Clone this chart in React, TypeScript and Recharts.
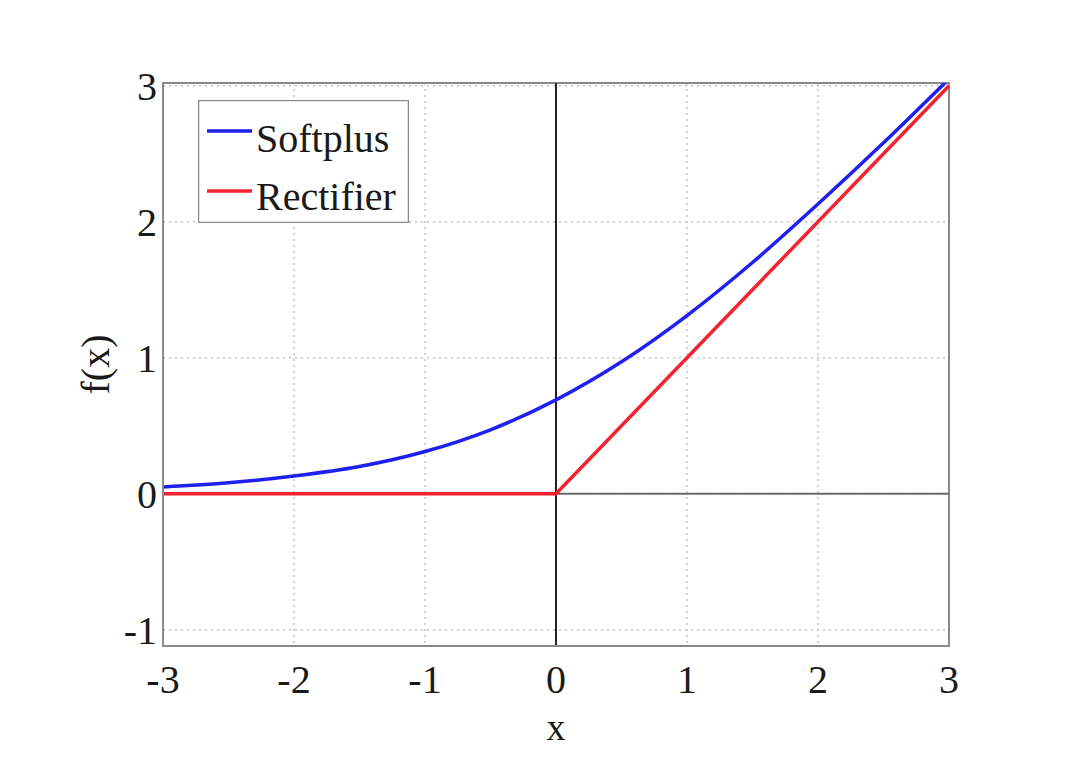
import React from "react"
import {
  LineChart,
  Line,
  XAxis,
  YAxis,
  CartesianGrid,
  ReferenceLine,
  ReferenceArea,
  Legend,
} from "recharts"

const xValues = [-3, -2.5, -2, -1.5, -1, -0.5, 0, 0.5, 1, 1.5, 2, 2.5, 3]
const softplus = [0.05, 0.08, 0.13, 0.2, 0.31, 0.47, 0.69, 0.97, 1.31, 1.7, 2.13, 2.58, 3.05]
const rectifier = [0, 0, 0, 0, 0, 0, 0, 0.5, 1, 1.5, 2, 2.5, 3]
const xTicks = [-3, -2, -1, 0, 1, 2, 3]
const yTicks = [-1, 0, 1, 2, 3]

const data = xValues.map((x, i) => ({ x, softplus: softplus[i], rectifier: rectifier[i] }))

const FONT = "'Liberation Serif', 'Times New Roman', serif"
const BLUE = "#1f1ff0"
const RED = "#f5222f"

const LegendBox = () => (
  <svg width={211} height={123} style={{ display: "block" }}>
    <rect x={0.5} y={0.5} width={210} height={122} fill="#fff" stroke="#8a8a8a" strokeWidth={1.5} />
    <line x1={9} x2={54} y1={31} y2={31} stroke={BLUE} strokeWidth={3.5} />
    <text x={58} y={52} fontFamily={FONT} fontSize={40} fill="#1a1a1a">Softplus</text>
    <line x1={9} x2={54} y1={91} y2={91} stroke={RED} strokeWidth={3.5} />
    <text x={58} y={110} fontFamily={FONT} fontSize={40} fill="#1a1a1a">Rectifier</text>
  </svg>
)

export default function App() {
  const tickStyle = { fontFamily: FONT, fontSize: 40, fill: "#1a1a1a" }
  return (
    <div style={{ position: "absolute", left: 0, top: 0, background: "#fff" }}>
      <LineChart width={1078} height={773} data={data} margin={{ top: 83, right: 129, left: 0, bottom: 0 }}>
        <CartesianGrid stroke="#c4c4c4" strokeDasharray="2 4" strokeWidth={1.5} />
        <XAxis
          type="number"
          dataKey="x"
          domain={[-3, 3]}
          ticks={xTicks}
          tickFormatter={(v: number) => String(v)}
          tick={tickStyle}
          tickLine={false}
          tickSize={0}
          tickMargin={19}
          axisLine={{ stroke: "#8a8a8a", strokeWidth: 2 }}
          height={127}
          label={{ value: "x", position: "insideBottom", offset: 33, style: { fontFamily: FONT, fontSize: 38, fill: "#1a1a1a" } }}
        />
        <YAxis
          type="number"
          domain={[-1.12, 3.02]}
          allowDataOverflow
          ticks={yTicks}
          tick={tickStyle}
          tickLine={false}
          tickSize={0}
          tickMargin={6}
          axisLine={{ stroke: "#8a8a8a", strokeWidth: 2 }}
          width={163}
          label={{
            content: (props: any) => {
              const vb = props.viewBox
              const cx = 95
              const cy = vb.y + vb.height / 2
              return (
                <text
                  x={cx}
                  y={cy}
                  transform={`rotate(-90, ${cx}, ${cy})`}
                  textAnchor="middle"
                  dominantBaseline="central"
                  fontFamily={FONT}
                  fontSize={40}
                  fill="#1a1a1a"
                >
                  f(x)
                </text>
              )
            },
          }}
        />
        <ReferenceArea x1={-3} x2={3} y1={-1.12} y2={3.02} fill="none" stroke="#8a8a8a" strokeWidth={2} ifOverflow="extendDomain" />
        <ReferenceLine y={0} stroke="#6a6a6a" strokeWidth={2} />
        <ReferenceLine x={0} stroke="#222" strokeWidth={2} />
        <Line type="monotone" dataKey="softplus" stroke={BLUE} strokeWidth={3.5} dot={false} isAnimationActive={false} />
        <Line type="linear" dataKey="rectifier" stroke={RED} strokeWidth={3.5} dot={false} isAnimationActive={false} />
        <Legend
          layout="horizontal"
          align="center"
          verticalAlign="middle"
          content={() => <LegendBox />}
          wrapperStyle={{ position: "absolute", left: 198, top: 100, width: 211, height: 123 }}
        />
      </LineChart>
    </div>
  )
}
